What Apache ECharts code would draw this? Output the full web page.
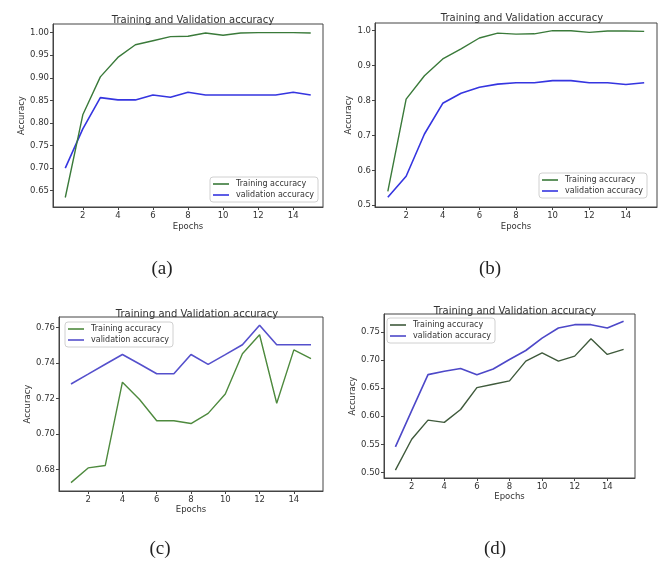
<!DOCTYPE html>
<html>
<head>
<meta charset="utf-8">
<script src="https://cdn.jsdelivr.net/npm/echarts@6/dist/echarts.min.js"></script>
<style>
html,body{margin:0;padding:0;background:#fff;}
#main{width:664px;height:567px;position:relative;}
.cap{position:absolute;font-family:"Liberation Serif","DejaVu Serif",serif;font-size:19px;color:#222;transform:translate(-50%,-50%);}
</style>
</head>
<body>
<div id="main"></div>
<div class="cap" style="left:162px;top:268px">(a)</div>
<div class="cap" style="left:490px;top:268px">(b)</div>
<div class="cap" style="left:160px;top:548px">(c)</div>
<div class="cap" style="left:495px;top:548px">(d)</div>
<script>
var epochs = [1,2,3,4,5,6,7,8,9,10,11,12,13,14,15];
var xTicks = [2,4,6,8,10,12,14];

var trainA = [0.635,0.818,0.902,0.945,0.973,0.982,0.991,0.992,0.999,0.994,0.999,1.000,1.000,1.000,0.999];
var valA   = [0.700,0.787,0.856,0.851,0.851,0.862,0.857,0.868,0.862,0.862,0.862,0.862,0.862,0.868,0.862];
var yTicksA = [0.65,0.70,0.75,0.80,0.85,0.90,0.95,1.00];

var trainB = [0.540,0.804,0.871,0.919,0.948,0.979,0.993,0.990,0.991,1.000,1.000,0.995,0.999,0.999,0.998];
var valB   = [0.523,0.583,0.704,0.792,0.821,0.838,0.847,0.851,0.851,0.857,0.857,0.851,0.851,0.846,0.851];
var yTicksB = [0.5,0.6,0.7,0.8,0.9,1.0];

var trainC = [0.6727,0.6810,0.6824,0.7293,0.7195,0.7076,0.7076,0.7060,0.7117,0.7226,0.7453,0.7560,0.7174,0.7475,0.7425];
var valC   = [0.7283,0.7338,0.7394,0.7449,0.7395,0.7340,0.7340,0.7449,0.7393,0.7448,0.7504,0.7614,0.7504,0.7504,0.7504];
var yTicksC = [0.68,0.70,0.72,0.74,0.76];

var trainD = [0.504,0.559,0.593,0.589,0.612,0.651,0.657,0.663,0.698,0.713,0.698,0.707,0.738,0.710,0.719];
var valD   = [0.5455,0.610,0.674,0.680,0.685,0.674,0.684,0.701,0.717,0.739,0.757,0.763,0.763,0.757,0.769];
var yTicksD = [0.50,0.55,0.60,0.65,0.70,0.75];

var titleText = 'Training and Validation accuracy';
var trainName = 'Training accuracy';
var valName = 'validation accuracy';

function pairs(arr){ return epochs.map(function(e,i){ return [e, arr[i]]; }); }

var font = 'DejaVu Sans';
var axisCol = '#444';
var textCol = '#333';

var panels = [
  {grid:{left:53,top:24,width:270,height:183}, ymin:0.614, ymax:1.019, yt:yTicksA, dec:2, train:trainA, val:valA,
   tc:'#3a7a3a', vc:'#3535e0', title:{x:188,y:10}, legend:{left:210,top:177}, yGap:26, xGap:15},
  {grid:{left:375,top:23,width:282,height:184}, ymin:0.495, ymax:1.022, yt:yTicksB, dec:1, train:trainB, val:valB,
   tc:'#3a7a3a', vc:'#3535e0', title:{x:517,y:8}, legend:{left:539,top:173}, yGap:22, xGap:15},
  {grid:{left:59,top:317,width:264,height:174}, ymin:0.668, ymax:0.766, yt:yTicksC, dec:2, train:trainC, val:valC,
   tc:'#4e8a3e', vc:'#5550cc', title:{x:192,y:304}, legend:{left:65,top:322}, yGap:26, xGap:13},
  {grid:{left:384,top:314,width:251,height:164}, ymin:0.490, ymax:0.782, yt:yTicksD, dec:2, train:trainD, val:valD,
   tc:'#3f5a3c', vc:'#4d48c8', title:{x:510,y:301}, legend:{left:387,top:318}, yGap:24, xGap:13}
];

var option = {
  animation:false,
  backgroundColor:'#fff',
  title:[], grid:[], xAxis:[], yAxis:[], legend:[], series:[]
};

panels.forEach(function(p, i){
  option.title.push({
    text:titleText, left:p.title.x, top:p.title.y, textAlign:'center',
    textStyle:{fontFamily:font, fontSize:10, fontWeight:'normal', color:textCol}
  });
  option.grid.push({left:p.grid.left, top:p.grid.top, width:p.grid.width, height:p.grid.height,
    show:true, borderColor:axisCol, borderWidth:1, backgroundColor:'transparent'});
  option.xAxis.push({
    type:'value', gridIndex:i, min:0.3, max:15.7,
    name:'Epochs', nameLocation:'middle', nameGap:p.xGap,
    nameTextStyle:{fontFamily:font, fontSize:8.5, color:textCol},
    axisLine:{show:true, lineStyle:{color:axisCol, width:1}},
    axisTick:{show:true, length:3, customValues:xTicks, lineStyle:{color:axisCol}},
    axisLabel:{customValues:xTicks, fontFamily:font, fontSize:8.5, color:textCol, margin:4},
    splitLine:{show:false}
  });
  option.yAxis.push({
    type:'value', gridIndex:i, min:p.ymin, max:p.ymax,
    name:'Accuracy', nameLocation:'middle', nameGap:p.yGap,
    nameTextStyle:{fontFamily:font, fontSize:8.5, color:textCol},
    axisLine:{show:true, lineStyle:{color:axisCol, width:1}},
    axisTick:{show:true, length:3, customValues:p.yt, lineStyle:{color:axisCol}},
    axisLabel:{customValues:p.yt, fontFamily:font, fontSize:8.5, color:textCol, margin:4,
      formatter:(function(d){return function(v){return Number(v).toFixed(d);};})(p.dec)},
    splitLine:{show:false}
  });
  option.legend.push({
    orient:'vertical', left:p.legend.left, top:p.legend.top,
    icon:'rect', itemWidth:16, itemHeight:1.6, itemGap:3,
    padding:[3,4,3,3], borderColor:'#d0d0d0', borderWidth:1, borderRadius:3,
    backgroundColor:'#fff', selectedMode:false,
    textStyle:{fontFamily:font, fontSize:8, color:textCol, padding:[0,0,0,2]},
    data:[{name:trainName, itemStyle:{color:p.tc}}, {name:valName, itemStyle:{color:p.vc}}]
  });
  option.series.push({
    type:'line', name:trainName, xAxisIndex:i, yAxisIndex:i, data:pairs(p.train),
    symbol:'none', lineStyle:{color:p.tc, width:1.4}, itemStyle:{color:p.tc}, z:3
  });
  option.series.push({
    type:'line', name:valName, xAxisIndex:i, yAxisIndex:i, data:pairs(p.val),
    symbol:'none', lineStyle:{color:p.vc, width:1.6}, itemStyle:{color:p.vc}, z:2
  });
});

var chart = echarts.init(document.getElementById('main'), null, {renderer:'canvas'});
chart.setOption(option);
</script>
</body>
</html>
